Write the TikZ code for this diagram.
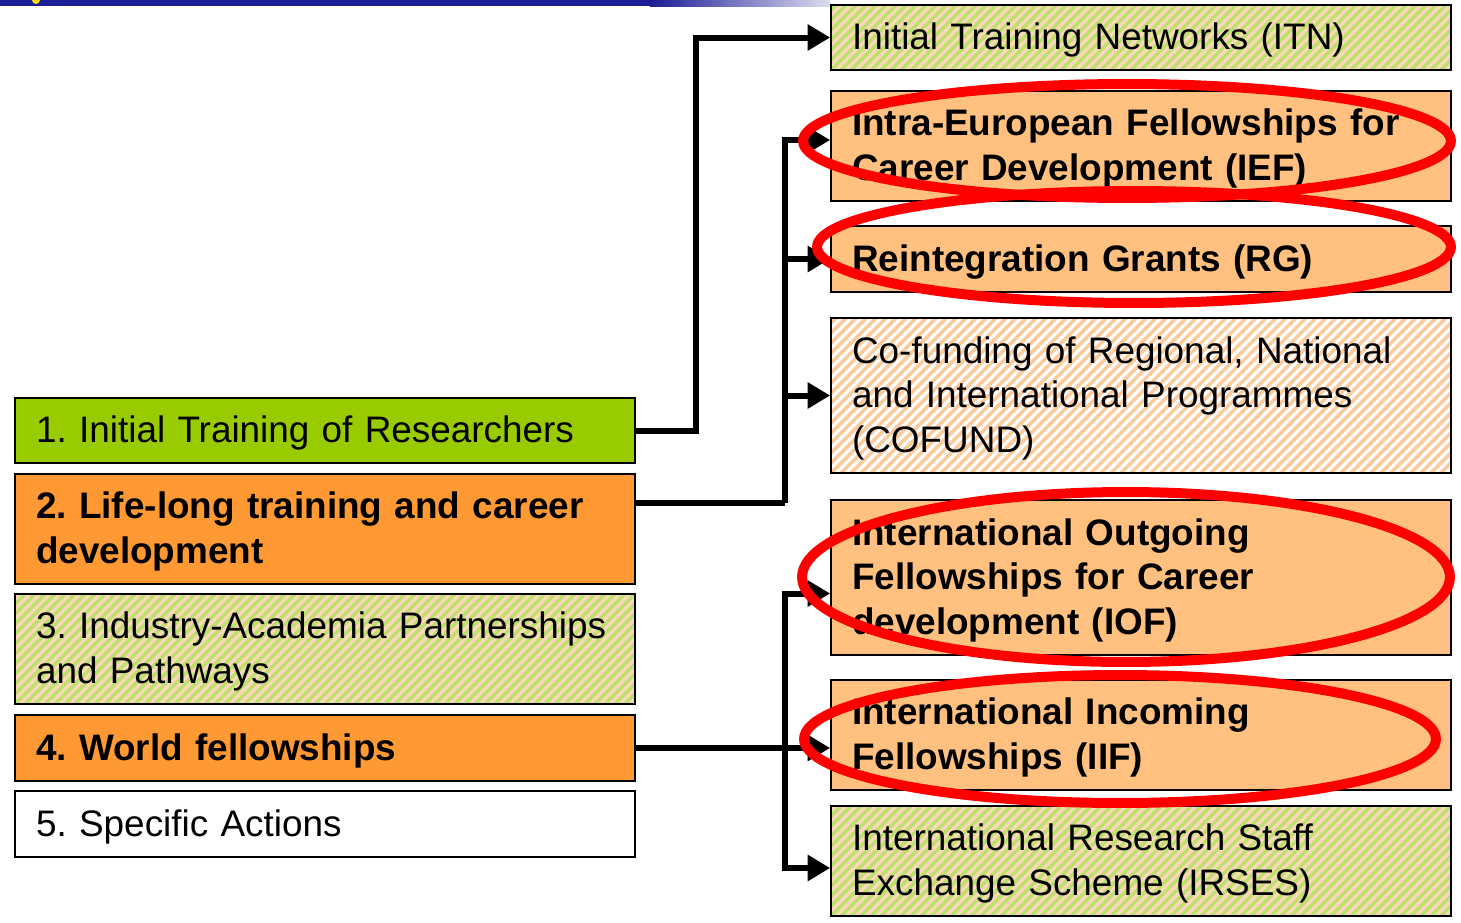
\documentclass[tikz,border=0pt]{standalone}
\usepackage{fontspec}
\setmainfont{Liberation Sans}
\usetikzlibrary{arrows.meta}
\frenchspacing

\definecolor{itrgreen}{HTML}{99CC00}
\definecolor{lltorange}{HTML}{FF9933}
\definecolor{lightor}{HTML}{FFC080}
\definecolor{peach}{HTML}{FCD8BA}
\definecolor{stripegreen}{HTML}{BEE06E}
\definecolor{stripeor}{HTML}{FCCB9C}
\definecolor{barblue}{HTML}{1C1C96}

\begin{document}
\begin{tikzpicture}[x=0.02cm,y=-0.02cm,>={Triangle[length=0.45cm,width=0.5cm]},
    box/.style={draw, line width=1pt, minimum width=12.4cm, text width=11.56cm,
      inner xsep=0.42cm, inner ysep=0pt, align=left, font=\fontsize{21}{25.6}\selectfont,
      execute at begin node={\rule{0pt}{20.2pt}},
      execute at end node={\rule[-6pt]{0pt}{0pt}}},
    bold/.style={font=\fontsize{21}{25.6}\selectfont\bfseries},
    hatch/.style 2 args={path picture={
      \fill[#1] (path picture bounding box.north west) rectangle (path picture bounding box.south east);
      \foreach \k in {0,...,85}
        \draw[#2, line width=2pt] ([xshift=\k*0.2cm-4cm]path picture bounding box.south west) -- ++(4cm,4cm);}},
    link/.style={line width=0.12cm},
    ring/.style={draw=red, line width=0.2cm}]

    \useasboundingbox (0,0) rectangle (1461,923);

    % Header strip
    \fill[barblue] (0,0) rectangle (650,6);
    \shade[left color=barblue, right color=barblue!15] (650,0) rectangle (830,6);
    \fill[yellow!80!orange] (36,0) circle (0.08cm);

    % Activities (left column)
    \node[box, fill=itrgreen, minimum height=1.3cm] (itr) at (325,430.5) {1. Initial Training of Researchers};
    \node[box, bold, fill=lltorange, minimum height=2.2cm] (llt) at (325,529) {2. Life-long training and career\\development};
    \node[box, hatch={peach}{stripegreen}, minimum height=2.2cm] (iap) at (325,649) {3. Industry-Academia Partnerships\\and Pathways};
    \node[box, bold, fill=lltorange, minimum height=1.32cm] (wf) at (325,748) {4. World fellowships};
    \node[box, fill=white, minimum height=1.32cm] (sa) at (325,824) {5. Specific Actions};

    % Schemes (right column)
    \node[box, hatch={peach}{stripegreen}, minimum height=1.3cm] (itn) at (1141,37.5) {Initial Training Networks (ITN)};
    \node[box, bold, fill=lightor, minimum height=2.2cm] (ief) at (1141,146) {Intra-European Fellowships for\\Career Development (IEF)};
    \node[box, bold, fill=lightor, minimum height=1.32cm] (rg) at (1141,259) {Reintegration Grants (RG)};
    \node[box, hatch={white}{stripeor}, minimum height=3.1cm] (cof) at (1141,395.5) {Co-funding of Regional, National\\and International Programmes\\(COFUND)};
    \node[box, bold, fill=lightor, minimum height=3.1cm] (iof) at (1141,577.5) {International Outgoing\\Fellowships for Career\\development (IOF)};
    \node[box, bold, fill=lightor, minimum height=2.2cm] (iif) at (1141,735) {International Incoming\\Fellowships (IIF)};
    \node[box, hatch={peach}{stripegreen}, minimum height=2.2cm] (irs) at (1141,861) {International Research Staff\\Exchange Scheme (IRSES)};

    % Links
    \draw[link,->] (itr.east) -- ++(60,0) |- (itn.west);

    \coordinate (j2) at (785,503);
    \draw[link] (llt.east |- j2) -- (j2);
    \draw[link,->] (j2) |- ([yshift=0.12cm]ief.west);
    \draw[link,->] (j2 |- rg.west) -- (rg.west);
    \draw[link,->] (j2 |- cof.west) -- (cof.west);

    \coordinate (j4) at (785,748);
    \draw[link,->] (wf.east) -- (wf.east -| iif.west);
    \draw[link,->] (j4) |- ([yshift=-0.32cm]iof.west);
    \draw[link,->] (j4) |- ([yshift=-0.14cm]irs.west);

    % Highlights
    \draw[ring] (1127,141) ellipse [x radius=6.48cm, y radius=1.14cm];
    \draw[ring] (1134,247) ellipse [x radius=6.34cm, y radius=1.12cm];
    \draw[ring] (1126,577) ellipse [x radius=6.48cm, y radius=1.70cm];
    \draw[ring] (1120,739) ellipse [x radius=6.32cm, y radius=1.28cm];

\end{tikzpicture}
\end{document}
